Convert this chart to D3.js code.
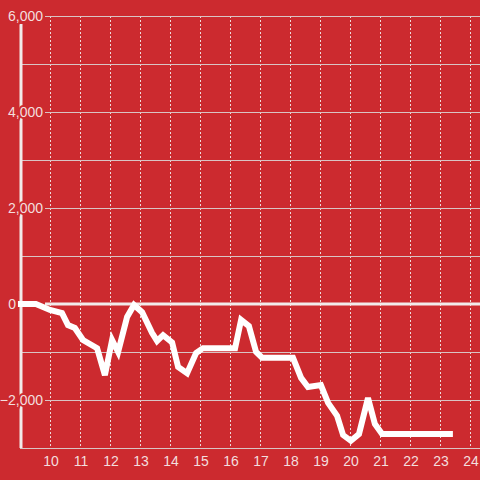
<!DOCTYPE html>
<html>
<head>
<meta charset="utf-8">
<script src="https://cdn.jsdelivr.net/npm/d3@7"></script>
<style>
  html, body { margin: 0; padding: 0; background: #cc2a2f; }
  svg { display: block; }
  text { font-family: "Liberation Sans", Arial, sans-serif; }
</style>
</head>
<body>
<svg id="chart" width="480" height="480"></svg>
<script>
// Data
const times = [8.93, 9.53, 10.0, 10.4, 10.6, 10.83, 11.1, 11.57, 11.83, 12.07, 12.27, 12.57, 12.8, 13.07, 13.4, 13.57, 13.77, 14.07, 14.27, 14.57, 14.87, 15.1, 16.17, 16.37, 16.63, 16.87, 17.07, 18.1, 18.37, 18.6, 19.03, 19.27, 19.57, 19.77, 20.03, 20.3, 20.6, 20.83, 21.07, 23.43];
const values = [0, 0, -125, -190, -440, -500, -750, -920, -1480, -750, -1000, -270, -20, -170, -600, -770, -650, -800, -1310, -1440, -1020, -920, -920, -330, -460, -1000, -1120, -1120, -1540, -1730, -1690, -2060, -2330, -2730, -2850, -2710, -1960, -2500, -2710, -2710];
const xTicks = [10, 11, 12, 13, 14, 15, 16, 17, 18, 19, 20, 21, 22, 23, 24];
const yLabelTicks = [-2000, 0, 2000, 4000, 6000];
const yGridTicks = [-3000, -2000, -1000, 0, 1000, 2000, 3000, 4000, 5000, 6000];

const bg = "#cc2a2f";
const svg = d3.select("#chart");
const x = d3.scaleLinear().domain([10, 24]).range([50, 470]);
const y = d3.scaleLinear().domain([-3000, 6000]).range([448, 16]);
const left = 20, labelRight = 43;

// vertical dotted grid
svg.append("g").selectAll("line").data(xTicks).join("line")
  .attr("x1", d => x(d) + 0.5).attr("x2", d => x(d) + 0.5)
  .attr("y1", y(6000)).attr("y2", y(-3000))
  .attr("stroke", "#eddada").attr("stroke-width", 1)
  .attr("stroke-dasharray", "2,2");

// horizontal grid
svg.append("g").selectAll("line").data(yGridTicks.filter(d => d !== 0)).join("line")
  .attr("x1", d => yLabelTicks.includes(d) ? 45 : left)
  .attr("x2", 480)
  .attr("y1", d => y(d) + 0.5).attr("y2", d => y(d) + 0.5)
  .attr("stroke", "#d9c4c4").attr("stroke-width", 1);

// y axis line
svg.append("line")
  .attr("x1", left + 1).attr("x2", left + 1)
  .attr("y1", 24).attr("y2", y(-3000))
  .attr("stroke", "#f2eaea").attr("stroke-width", 3);

// zero line
svg.append("line")
  .attr("x1", 45).attr("x2", 480)
  .attr("y1", y(0)).attr("y2", y(0))
  .attr("stroke", "#f2eaea").attr("stroke-width", 3);

// data line
const line = d3.line().x((d, i) => x(times[i])).y(d => y(d));
svg.append("path").datum(values)
  .attr("d", line)
  .attr("fill", "none")
  .attr("stroke", "#ffffff")
  .attr("stroke-width", 6)
  .attr("stroke-linejoin", "miter");

// y labels with halo
svg.append("g").selectAll("text").data(yLabelTicks).join("text")
  .attr("x", d => d === 0 ? 16 : labelRight).attr("y", d => y(d) + 5)
  .attr("text-anchor", "end")
  .attr("font-size", 14)
  .attr("fill", "#f3dede")
  .attr("stroke", bg).attr("stroke-width", 4)
  .attr("paint-order", "stroke")
  .text(d => d3.format(",")(d));

// x labels
svg.append("g").selectAll("text").data(xTicks).join("text")
  .attr("x", d => x(d) + 1).attr("y", 466)
  .attr("text-anchor", "middle")
  .attr("font-size", 14)
  .attr("fill", "#f3dede")
  .text(d => d);
</script>
</body>
</html>
